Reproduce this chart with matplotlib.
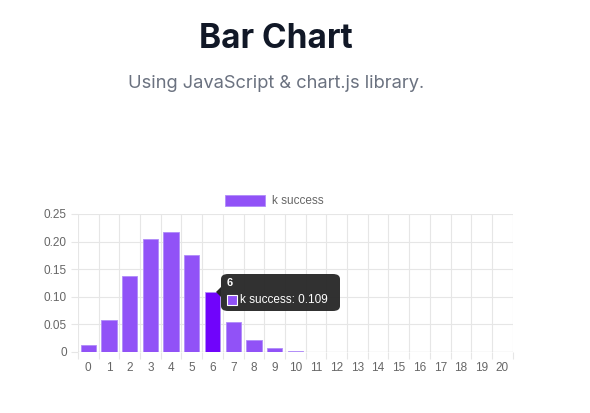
import numpy as np
import matplotlib
matplotlib.use("Agg")
import matplotlib.pyplot as plt
from matplotlib.patches import FancyBboxPatch, Rectangle

# k successes and their probabilities
k_labels = [str(k) for k in range(21)]
k_success = [0.012, 0.058, 0.137, 0.205, 0.218, 0.175, 0.109, 0.055, 0.022, 0.007,
             0.002, 0.0005, 0.0001, 0.0, 0.0, 0.0, 0.0, 0.0, 0.0, 0.0, 0.0]
y_ticks = [0, 0.05, 0.10, 0.15, 0.20, 0.25]
y_tick_labels = ['0', '0.05', '0.10', '0.15', '0.20', '0.25']
hover_idx = 6

plt.rcParams['font.family'] = ['Inter', 'DejaVu Sans']

fig = plt.figure(figsize=(5.9, 4.13), dpi=100)
fig.patch.set_facecolor('white')

fig.text(0.468, 0.905, 'Bar Chart', ha='center', va='center',
         fontsize=24, fontweight='bold', color='#111827')
fig.text(0.468, 0.797, 'Using JavaScript & chart.js library.', ha='center',
         va='center', fontsize=13.2, color='#6b7280')

ax = fig.add_axes([0.132, 0.148, 0.737, 0.334])
idx = np.arange(len(k_labels))
colors = ['#9152f7'] * len(k_labels)
colors[hover_idx] = '#7004fb'
ax.bar(idx, k_success, width=0.74, color=colors, edgecolor='#b08cf9',
       linewidth=0.6, zorder=3)

ax.set_xlim(-0.5, len(k_labels) - 0.5)
ax.set_ylim(0, 0.25)
ax.set_xticks(idx)
ax.set_xticklabels(k_labels)
ax.set_yticks(y_ticks)
ax.set_yticklabels(y_tick_labels)
ax.set_xticks(np.arange(-0.5, len(k_labels), 1), minor=True)

ax.grid(False)
for b in np.arange(-0.5, len(k_labels), 1):
    ax.axvline(b, color='#e6e6e6', lw=0.8, zorder=0)
for t in y_ticks[1:]:
    ax.axhline(t, color='#e6e6e6', lw=0.8, zorder=0)
ax.axhline(0, color='#d4d4d4', lw=0.9, zorder=1)

for s in ax.spines.values():
    s.set_visible(False)
ax.tick_params(axis='x', which='major', length=0, pad=7, labelsize=8.5, labelcolor='#666666')
ax.tick_params(axis='x', which='minor', length=5, color='#e6e6e6', width=0.8)
ax.tick_params(axis='y', length=5, color='#e6e6e6', width=0.8, pad=3,
               labelsize=8.5, labelcolor='#666666')
for lbl in ax.get_xticklabels() + ax.get_yticklabels():
    lbl.set_family('Liberation Sans')

# legend
fig.patches.append(Rectangle((225 / 590, 1 - 206 / 413), 40 / 590, 11 / 413,
                             transform=fig.transFigure, facecolor='#9152f7',
                             edgecolor='#b08cf9', lw=0.6))
fig.text(272 / 590, 1 - 201 / 413, 'k success', ha='left', va='center',
         fontsize=8.5, color='#666666', family='Liberation Sans')

# tooltip
tx0, ty0, tw, th = 221 / 590, 1 - 311 / 413, 119 / 590, 37 / 413
fig.patches.append(FancyBboxPatch((tx0, ty0), tw, th, transform=fig.transFigure,
                                  boxstyle='round,pad=0,rounding_size=0.012',
                                  facecolor='#262626', edgecolor='none', alpha=0.95,
                                  zorder=10))
fig.patches.append(plt.Polygon([[tx0, 1 - 297 / 413], [tx0 - 5 / 590, 1 - 292 / 413],
                                [tx0, 1 - 287 / 413]], closed=True,
                               transform=fig.transFigure, facecolor='#262626',
                               edgecolor='none', zorder=10))
fig.text(227 / 590, 1 - 283 / 413, k_labels[hover_idx], ha='left', va='center',
         fontsize=8, fontweight='bold', color='white', family='Liberation Sans',
         zorder=11)
fig.patches.append(Rectangle((227 / 590, 1 - 305 / 413), 10 / 590, 10 / 413,
                             transform=fig.transFigure, facecolor='#9152f7',
                             edgecolor='white', lw=0.8, zorder=11))
fig.text(240 / 590, 1 - 300 / 413, 'k success: %.3f' % k_success[hover_idx],
         ha='left', va='center', fontsize=8.5, color='white',
         family='Liberation Sans', zorder=11)

fig.savefig('out.png', dpi=100)
